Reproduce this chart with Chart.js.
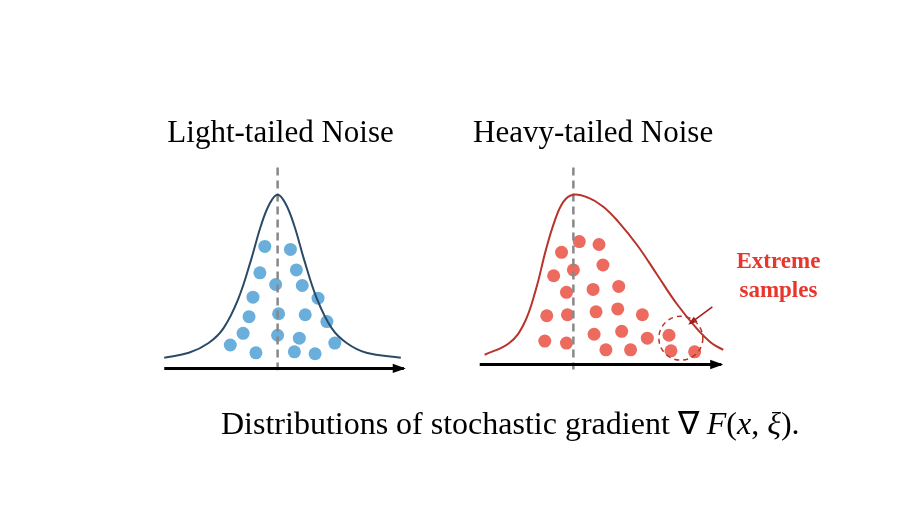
<!DOCTYPE html>
<html><head><meta charset="utf-8">
<script src="https://cdn.jsdelivr.net/npm/chart.js@4"></script>
<style>html,body{margin:0;background:#fff}#wrap{width:920px;height:530px}</style>
</head><body><div id="wrap"><canvas id="c"></canvas></div>
<script>
// values, in picture units (x right, y down)
const lightCurve = [[160,360],[185,355],[205,345],[220,330],[235,300],[248,260],[258,225],[267,202],[275,193],[283,202],[292,225],[302,260],[315,300],[330,330],[345,345],[365,355],[400,360]];
const heavyCurve = [[485,357],[510,345],[525,325],[537,290],[547,250],[556,220],[565,200],[575,193],[590,196],[605,205],[620,220],[640,245],[660,275],[680,305],[700,330],[715,345],[727,352]];
const lightDots = [[262,246],[288,249],[257,273],[294,270],[273,285],[300,286],[250,298],[316,299],[276,315],[246,318],[303,316],[325,323],[275,337],[240,335],[297,340],[227,347],[253,355],[292,354],[313,356],[333,345]];
const heavyDots = [[563,252],[581,241],[601,244],[555,276],[575,270],[605,265],[568,293],[595,290],[621,287],[548,317],[569,316],[598,313],[620,310],[645,316],[546,343],[568,345],[596,336],[624,333],[650,340],[608,352],[633,352],[672,337],[674,353],[698,354]];
const meanLines = [[[275,165],[275,373]], [[575,165],[575,372]]];
const titles = ['Light-tailed Noise', 'Heavy-tailed Noise'];
// caption pieces: [text, italic]
const caption = [['Distributions of stochastic gradient \u2207 ', false], ['F', true], ['(', false], ['x', true], [', ', false], ['\u03BE', true], [').', false]];

const pts = a => a.map(p => ({x: p[0], y: p[1]}));

const decor = {
	id: 'decor',
	afterDatasetsDraw(chart) {
		const ctx = chart.ctx, sx = chart.scales.x, sy = chart.scales.y;
		const X = v => sx.getPixelForValue(v), Y = v => sy.getPixelForValue(v);
		ctx.save();
		function arrow(x1, y1, x2, y2, col, w, head) {
			ctx.strokeStyle = col; ctx.fillStyle = col; ctx.lineWidth = w;
			ctx.beginPath(); ctx.moveTo(X(x1), Y(y1)); ctx.lineTo(X(x2), Y(y2)); ctx.stroke();
			let a = Math.atan2(Y(y2) - Y(y1), X(x2) - X(x1));
			ctx.beginPath();
			ctx.moveTo(X(x2) + 2 * Math.cos(a), Y(y2) + 2 * Math.sin(a));
			ctx.lineTo(X(x2) - head * Math.cos(a - 0.4), Y(y2) - head * Math.sin(a - 0.4));
			ctx.lineTo(X(x2) - head * Math.cos(a + 0.4), Y(y2) - head * Math.sin(a + 0.4));
			ctx.closePath(); ctx.fill();
		}
		arrow(160, 371, 403, 371, '#000', 3, 12);
		arrow(480, 367, 725, 367, '#000', 3, 12);
		arrow(716, 308, 693, 325, '#a11d1d', 1.5, 8);
		ctx.strokeStyle = '#b8332a'; ctx.lineWidth = 1.5; ctx.setLineDash([5, 4]);
		ctx.beginPath(); ctx.arc(X(684), Y(340), 22, 0, Math.PI * 2); ctx.stroke();
		ctx.setLineDash([]);
		ctx.fillStyle = '#000'; ctx.textAlign = 'center'; ctx.textBaseline = 'middle';
		ctx.font = '31px "Liberation Serif", serif';
		ctx.fillText(titles[0], X(278), Y(131));
		ctx.fillText(titles[1], X(595), Y(131));
		// caption
		const fonts = it => (it ? 'italic ' : '') + '32px "Liberation Serif", serif';
		let total = 0;
		caption.forEach(c => { ctx.font = fonts(c[1]); total += ctx.measureText(c[0]).width; });
		let cx = X(511) - total / 2;
		ctx.textAlign = 'left';
		caption.forEach(c => { ctx.font = fonts(c[1]); ctx.fillText(c[0], cx, Y(430)); cx += ctx.measureText(c[0]).width; });
		ctx.textAlign = 'center';
		ctx.fillStyle = '#e8362d'; ctx.font = 'bold 23px "Liberation Serif", serif';
		ctx.fillText('Extreme', X(783), Y(262));
		ctx.fillText('samples', X(783), Y(292));
		ctx.restore();
	}
};

new Chart(document.getElementById('c'), {
	type: 'scatter',
	data: {
		datasets: [
			{data: pts(lightCurve), showLine: true, borderColor: '#2b4a66', borderWidth: 2, pointRadius: 0, tension: 0.4},
			{data: pts(heavyCurve), showLine: true, borderColor: '#b8332a', borderWidth: 2, pointRadius: 0, tension: 0.4},
			{data: pts(meanLines[0]), showLine: true, borderColor: '#888', borderWidth: 2.5, borderDash: [8, 5], pointRadius: 0},
			{data: pts(meanLines[1]), showLine: true, borderColor: '#888', borderWidth: 2.5, borderDash: [8, 5], pointRadius: 0},
			{data: pts(lightDots), backgroundColor: '#6aaedc', borderWidth: 0, pointRadius: 6.5},
			{data: pts(heavyDots), backgroundColor: '#ec6a5e', borderWidth: 0, pointRadius: 6.5}
		]
	},
	options: {
		responsive: true, maintainAspectRatio: false, animation: false,
		layout: {padding: 0},
		plugins: {legend: {display: false}, tooltip: {enabled: false}},
		scales: {
			x: {type: 'linear', min: 0, max: 920, display: false},
			y: {type: 'linear', min: 0, max: 530, reverse: true, display: false}
		}
	},
	plugins: [decor]
});
</script></body></html>
